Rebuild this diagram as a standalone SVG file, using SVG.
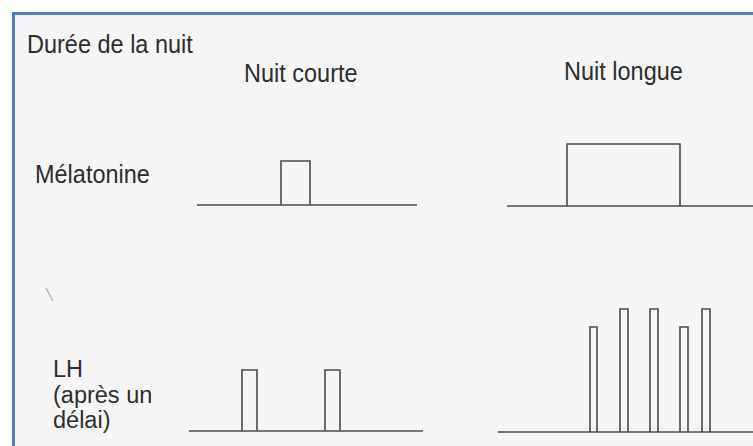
<svg xmlns="http://www.w3.org/2000/svg" width="753" height="446" viewBox="0 0 753 446">
  <style>
    .t { font-family: "Liberation Sans", Arial, sans-serif; font-size: 23.5px; fill: #2e2e2e; }
    .ax { stroke: #4a4a4a; stroke-width: 1.6; fill: none; }
    .pulse { stroke: #4a4a4a; stroke-width: 1.6; fill: none; stroke-linejoin: miter; }
  </style>
  <rect x="0" y="0" width="753" height="446" fill="#ffffff"/>
  <rect x="13.5" y="13.5" width="745" height="440" fill="#f5f5f5"/>
  <g id="frame">
    <path d="M13.5 446 V13.5 H753" fill="none" stroke="#4f7fbf" stroke-width="3"/>
  </g>

  <g id="title-duree"><text class="t" transform="translate(27 53) scale(1 1.1)">Durée de la nuit</text></g>
  <g id="title-courte"><text class="t" transform="translate(244 82) scale(1 1.1)">Nuit courte</text></g>
  <g id="title-longue"><text class="t" transform="translate(564 80) scale(1 1.1)">Nuit longue</text></g>
  <g id="label-melatonine"><text class="t" transform="translate(35 183) scale(1 1.1)">Mélatonine</text></g>
  <g id="label-lh">
    <text class="t" x="53" y="377">LH</text>
    <text class="t" x="53" y="403">(après un</text>
    <text class="t" x="53" y="428">délai)</text>
  </g>

  <g id="melatonine-courte">
    <line class="ax" x1="197" y1="205" x2="417" y2="205"/>
    <path class="pulse" d="M281 205 V161 H310 V205"/>
  </g>
  <g id="melatonine-longue">
    <line class="ax" x1="507" y1="206" x2="753" y2="206"/>
    <path class="pulse" d="M567 206 V144 H680 V206"/>
  </g>
  <g id="lh-courte">
    <line class="ax" x1="189" y1="431" x2="423" y2="431"/>
    <path class="pulse" d="M242 431 V370 H257 V431"/>
    <path class="pulse" d="M325 431 V370 H340 V431"/>
  </g>
  <g id="lh-longue">
    <line class="ax" x1="498" y1="432" x2="753" y2="432"/>
    <path class="pulse" d="M590 432 V327 H597 V432"/>
    <path class="pulse" d="M620 432 V309 H628 V432"/>
    <path class="pulse" d="M650 432 V309 H658 V432"/>
    <path class="pulse" d="M680 432 V327 H688 V432"/>
    <path class="pulse" d="M702 432 V309 H710 V432"/>
  </g>
  <line x1="46" y1="288" x2="53" y2="301" stroke="#b5b5b5" stroke-width="1.5"/>
</svg>
